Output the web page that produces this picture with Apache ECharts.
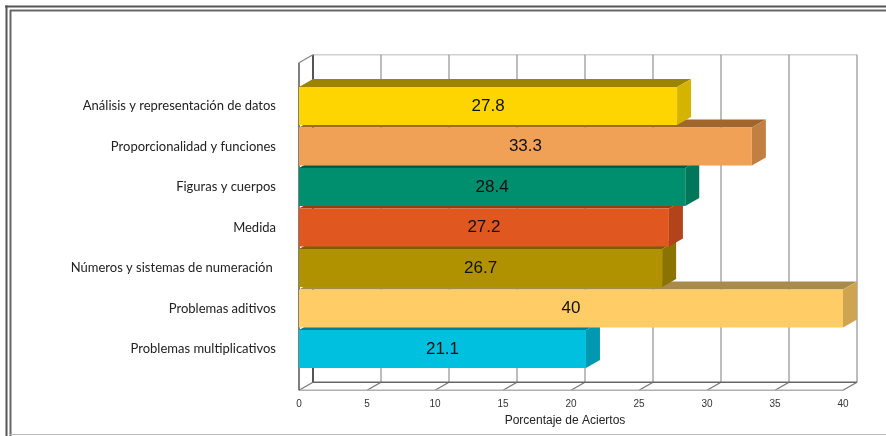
<!DOCTYPE html>
<html>
<head>
<meta charset="utf-8">
<script src="https://cdn.jsdelivr.net/npm/echarts@6/dist/echarts.min.js"></script>
<style>
html,body{margin:0;padding:0;background:#fff;}
#chart{width:886px;height:436px;}
</style>
</head>
<body>
<div id="chart"></div>
<script>
// ---- data ----
const categories = [
  'Análisis y representación de datos',
  'Proporcionalidad y funciones',
  'Figuras y cuerpos',
  'Medida',
  'Números y sistemas de numeración ',
  'Problemas aditivos',
  'Problemas multiplicativos'
];
const values = [27.8, 33.3, 28.4, 27.2, 26.7, 40, 21.1];
const xTicks = [0, 5, 10, 15, 20, 25, 30, 35, 40];
const axisTitle = 'Porcentaje de Aciertos';

// ---- styles ----
const frontColors = ['#FFD500', '#F0A155', '#008F6E', '#E0581F', '#B09200', '#FFCC66', '#00C0E0'];
const topColors   = ['#9C8300', '#A0662E', '#005E47', '#9A3A12', '#766200', '#A88A4A', '#007E95'];
const sideColors  = ['#D4B400', '#C27F42', '#00765A', '#B2431B', '#8A7300', '#CFA450', '#0098B0'];
const DX = 14, DY = 8;       // depth offset
const PAD_TOP = 23, PAD_BOTTOM = 21;

const chart = echarts.init(document.getElementById('chart'), null, {renderer: 'canvas'});

// bottom bars drawn first so upper bars cover their top faces
const barData = [];
for (let i = values.length - 1; i >= 0; i--) barData.push([values[i], i]);

function renderWalls(params, api) {
  const cs = params.coordSys;
  const yTop = cs.y - PAD_TOP;
  const yBot = cs.y + cs.height + PAD_BOTTOM;
  const children = [];
  const x0 = api.coord([xTicks[0], 0])[0];
  const xN = api.coord([xTicks[xTicks.length - 1], 0])[0];
  children.push({type: 'line', shape: {x1: x0 + DX, y1: yTop - DY, x2: xN + DX, y2: yTop - DY}, style: {stroke: '#cfcfcf', lineWidth: 1.5}});
  xTicks.forEach((t, k) => {
    const x = api.coord([t, 0])[0];
    const dark = (k === 0);
    children.push({type: 'line', shape: {x1: x + DX, y1: yTop - DY, x2: x + DX, y2: yBot - DY},
      style: {stroke: dark ? '#555' : '#9a9a9a', lineWidth: dark ? 2 : 1.3}});
    children.push({type: 'line', shape: {x1: x, y1: yBot, x2: x + DX, y2: yBot - DY},
      style: {stroke: '#777', lineWidth: 1.2}});
  });
  children.push({type: 'line', shape: {x1: x0 + DX, y1: yBot - DY, x2: xN + DX, y2: yBot - DY}, style: {stroke: '#666', lineWidth: 1.5}});
  children.push({type: 'line', shape: {x1: x0, y1: yBot, x2: xN, y2: yBot}, style: {stroke: '#b0b0b0', lineWidth: 1.3}});
  children.push({type: 'line', shape: {x1: x0, y1: yTop, x2: x0, y2: yBot}, style: {stroke: '#555', lineWidth: 1.5}});
  children.push({type: 'line', shape: {x1: x0, y1: yTop, x2: x0 + DX, y2: yTop - DY}, style: {stroke: '#888', lineWidth: 1.2}});
  return {type: 'group', children: children};
}

function renderBar(params, api) {
  const v = api.value(0);
  const idx = api.value(1);
  const p0 = api.coord([0, idx]);
  const p1 = api.coord([v, idx]);
  const band = api.size([0, 1])[1];
  const h = band * 0.94;
  const top = p0[1] - h / 2, bot = p0[1] + h / 2;
  const xa = p0[0], xb = p1[0];
  return {
    type: 'group',
    children: [
      {type: 'polygon', shape: {points: [[xa, top], [xa + DX, top - DY], [xb + DX, top - DY], [xb, top]]},
        style: {fill: topColors[idx]}},
      {type: 'polygon', shape: {points: [[xb, top], [xb + DX, top - DY], [xb + DX, bot - DY], [xb, bot]]},
        style: {fill: sideColors[idx]}},
      {type: 'rect', shape: {x: xa, y: top, width: xb - xa, height: h},
        style: {fill: frontColors[idx]}},
      {type: 'text', x: (xa + xb) / 2, y: p0[1],
        style: {text: String(v), fill: '#111', font: '17px "Liberation Sans", Arial, sans-serif', align: 'center', verticalAlign: 'middle'}}
    ]
  };
}

const option = {
  animation: false,
  backgroundColor: '#fff',
  grid: {left: 299, right: 43, top: 85.75, bottom: 66.75, containLabel: false},
  xAxis: {
    type: 'value', min: 0, max: 40, interval: 5,
    axisLine: {show: false}, axisTick: {show: false}, splitLine: {show: false},
    axisLabel: {margin: 30, fontSize: 10, color: '#333', fontFamily: '"Liberation Sans", Arial, sans-serif'},
    name: axisTitle, nameLocation: 'middle', nameGap: 45,
    nameTextStyle: {fontSize: 12, color: '#222', fontFamily: '"Liberation Sans", Arial, sans-serif', padding: [0, 12, 0, 0]}
  },
  yAxis: {
    type: 'category', data: categories, inverse: true,
    axisLine: {show: false}, axisTick: {show: false}, splitLine: {show: false},
    axisLabel: {margin: 23, fontSize: 13, color: '#222', fontFamily: 'Lato, "Open Sans", sans-serif'}
  },
  series: [
    {type: 'custom', name: 'walls', renderItem: renderWalls, data: [[0, 0]], z: 1, silent: true, clip: false},
    {type: 'custom', name: 'bars', renderItem: renderBar, data: barData, z: 2, clip: false,
      encode: {x: 0, y: 1}}
  ],
  graphic: [
    {type: 'line', shape: {x1: 5, y1: 6.5, x2: 886, y2: 6.5}, style: {stroke: '#555', lineWidth: 2}, silent: true},
    {type: 'line', shape: {x1: 10, y1: 10.5, x2: 886, y2: 10.5}, style: {stroke: '#666', lineWidth: 2}, silent: true},
    {type: 'line', shape: {x1: 6.5, y1: 5.5, x2: 6.5, y2: 436}, style: {stroke: '#555', lineWidth: 2}, silent: true},
    {type: 'line', shape: {x1: 10.5, y1: 10, x2: 10.5, y2: 436}, style: {stroke: '#666', lineWidth: 2}, silent: true},
    {type: 'line', shape: {x1: 10, y1: 434.5, x2: 886, y2: 434.5}, style: {stroke: '#bbb', lineWidth: 1}, silent: true}
  ]
};
chart.setOption(option);
</script>
</body>
</html>
